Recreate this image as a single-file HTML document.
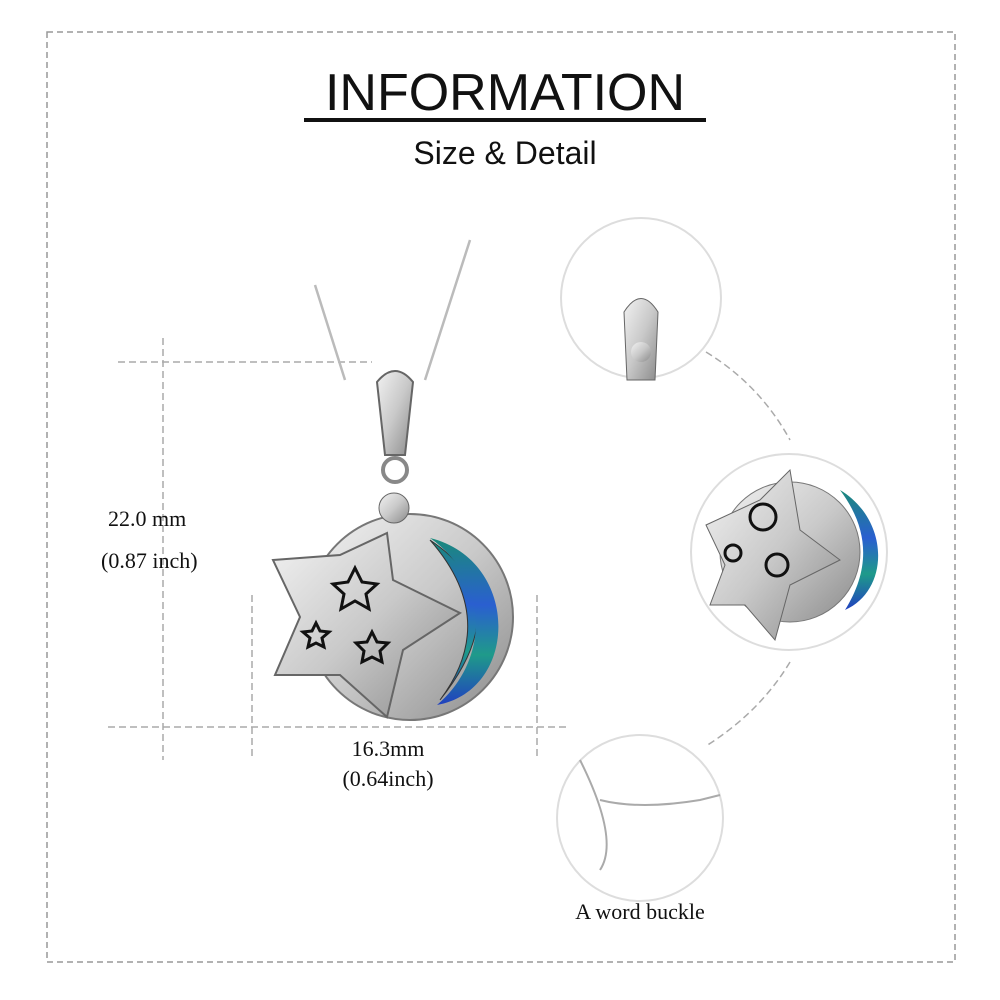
<!DOCTYPE html>
<html><head><meta charset="utf-8"><style>
body{margin:0;background:#fff;}
svg{display:block}
</style></head><body>
<svg width="1000" height="1000" viewBox="0 0 1000 1000" xmlns="http://www.w3.org/2000/svg">
<defs>
<linearGradient id="sil" x1="0" y1="0" x2="1" y2="1">
<stop offset="0" stop-color="#f2f2f2"/><stop offset="0.5" stop-color="#c9c9c9"/><stop offset="1" stop-color="#8a8a8a"/></linearGradient>
<linearGradient id="ab" x1="0" y1="0" x2="0" y2="1">
<stop offset="0" stop-color="#1a8a7a"/><stop offset="0.4" stop-color="#2a5fd0"/><stop offset="0.7" stop-color="#1f9a8a"/><stop offset="1" stop-color="#2040c0"/></linearGradient>
</defs>
<rect x="47" y="32" width="908" height="930" fill="none" stroke="#999" stroke-width="1.5" stroke-dasharray="6,4"/>
<text x="505" y="110" font-family="Liberation Sans, sans-serif" font-size="52" text-anchor="middle" fill="#111">INFORMATION</text>
<rect x="304" y="118" width="402" height="4" fill="#111"/>
<text x="505" y="164" font-family="Liberation Sans, sans-serif" font-size="32" text-anchor="middle" fill="#111">Size &amp; Detail</text>
<g stroke="#aaa" stroke-width="1.5" stroke-dasharray="7,4" fill="none">
<line x1="118" y1="362" x2="372" y2="362"/>
<line x1="108" y1="727" x2="570" y2="727"/>
<line x1="163" y1="338" x2="163" y2="760"/>
<line x1="252" y1="595" x2="252" y2="760"/>
<line x1="537" y1="595" x2="537" y2="760"/>
<path d="M706 352 Q760 385 790 440"/>
<path d="M790 662 Q760 712 706 746"/>
</g>
<g font-family="Liberation Serif, serif" font-size="22" fill="#111">
<text x="108" y="526">22.0 mm</text>
<text x="101" y="568">(0.87 inch)</text>
<text x="388" y="756" text-anchor="middle">16.3mm</text>
<text x="388" y="786" text-anchor="middle">(0.64inch)</text>
<text x="640" y="919" text-anchor="middle">A word buckle</text>
</g>
<!-- chain -->
<g stroke="#bbb" stroke-width="2.5" fill="none">
<path d="M315 285 L345 380 M470 240 L425 380"/>
</g>
<!-- pendant -->
<circle cx="410" cy="617" r="103" fill="url(#sil)" stroke="#777" stroke-width="2"/>
<path d="M430 540 Q520 600 440 700 Q500 620 430 540Z" fill="url(#ab)" stroke="#333"/>
<path d="M430 538 C520 560 520 690 437 705 C490 660 490 580 430 538Z" fill="url(#ab)"/>
<polygon points="273,560 340,555 387,533 393,580 460,613 403,650 387,717 340,675 275,675 300,617" fill="url(#sil)" stroke="#666" stroke-width="2"/>
<g fill="none" stroke="#111" stroke-width="3">
<polygon points="355,568 362,582 377,584 366,594 369,609 355,601 341,609 344,594 333,584 348,582"/>
<polygon points="316,623 320,631 329,632 322,638 324,647 316,643 308,647 310,638 303,632 312,631"/>
<polygon points="372,632 377,642 388,643 380,651 382,662 372,657 362,662 364,651 356,643 367,642"/>
</g>
<path d="M377 382 Q395 360 413 382 L405 455 L385 455Z" fill="url(#sil)" stroke="#666" stroke-width="2"/>
<circle cx="395" cy="470" r="12" fill="none" stroke="#888" stroke-width="4"/>
<circle cx="394" cy="508" r="15" fill="url(#sil)" stroke="#666"/>
<!-- detail circles -->
<g fill="#fff" stroke="#ddd" stroke-width="2">
<circle cx="641" cy="298" r="80"/>
<circle cx="789" cy="552" r="98"/>
<circle cx="640" cy="818" r="83"/>
</g>
<path d="M624 312 Q641 285 658 312 L655 380 L627 380Z" fill="url(#sil)" stroke="#666"/>
<circle cx="641" cy="352" r="10" fill="url(#sil)"/>
<circle cx="790" cy="552" r="70" fill="url(#sil)" stroke="#777"/>
<path d="M840 490 C890 520 890 590 845 610 C870 570 870 530 840 490Z" fill="url(#ab)"/>
<polygon points="706,525 760,500 790,470 800,530 840,560 790,585 775,640 745,605 710,605 725,565" fill="url(#sil)" stroke="#666"/>
<g fill="none" stroke="#111" stroke-width="3">
<circle cx="763" cy="517" r="13"/><circle cx="733" cy="553" r="8"/><circle cx="777" cy="565" r="11"/>
</g>
<path d="M580 760 Q620 840 600 870 M600 800 Q640 810 700 800 L720 795" stroke="#aaa" stroke-width="2" fill="none"/>
</svg>
</body></html>
